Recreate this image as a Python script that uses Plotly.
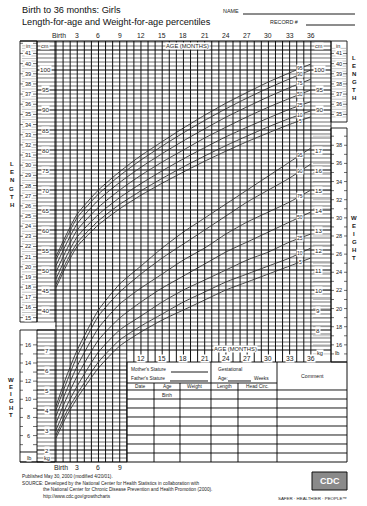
import numpy as np
import plotly.graph_objects as go

# ---------------- data ----------------
ages = [0, 1.5, 3, 6, 9, 12, 15, 18, 21, 24, 27, 30, 33, 36]
percentiles = ["5", "10", "25", "50", "75", "90", "95"]

length_p5 = [45.6, 51.2, 55.9, 61.3, 65.3, 68.7, 71.7, 74.5, 77.2, 79.7, 82.1, 84.3, 86.4, 88.3]
length_p10 = [46.4, 52.1, 56.8, 62.3, 66.4, 69.8, 72.9, 75.8, 78.5, 81.1, 83.5, 85.8, 87.9, 89.8]
length_p25 = [47.8, 53.5, 58.3, 63.9, 68.1, 71.6, 74.8, 77.8, 80.6, 83.3, 85.7, 88.0, 90.2, 92.1]
length_p50 = [49.5, 55.1, 60.0, 65.7, 70.0, 73.7, 77.0, 80.0, 83.0, 85.7, 88.3, 90.7, 92.9, 95.0]
length_p75 = [51.1, 56.7, 61.6, 67.5, 71.9, 75.7, 79.1, 82.3, 85.3, 88.2, 90.8, 93.3, 95.6, 97.7]
length_p90 = [52.6, 58.1, 63.1, 69.0, 73.6, 77.5, 81.0, 84.3, 87.4, 90.3, 93.0, 95.5, 97.8, 100.0]
length_p95 = [53.4, 59.0, 64.0, 70.0, 74.6, 78.6, 82.1, 85.5, 88.7, 91.7, 94.4, 97.0, 99.3, 101.5]

weight_p5 = [2.6, 3.7, 4.6, 6.1, 7.2, 7.9, 8.5, 9.0, 9.5, 10.0, 10.4, 10.8, 11.2, 11.6]
weight_p10 = [2.75, 3.9, 4.8, 6.4, 7.5, 8.2, 8.8, 9.4, 9.9, 10.4, 10.8, 11.2, 11.6, 12.1]
weight_p25 = [3.0, 4.2, 5.2, 6.9, 8.0, 8.7, 9.4, 10.0, 10.5, 11.0, 11.5, 11.9, 12.4, 12.8]
weight_p50 = [3.35, 4.6, 5.7, 7.5, 8.6, 9.4, 10.1, 10.7, 11.3, 11.9, 12.4, 12.9, 13.4, 13.9]
weight_p75 = [3.7, 5.0, 6.2, 8.1, 9.3, 10.1, 10.8, 11.5, 12.1, 12.8, 13.4, 13.9, 14.4, 15.0]
weight_p90 = [4.0, 5.4, 6.7, 8.7, 9.9, 10.8, 11.6, 12.3, 13.0, 13.7, 14.4, 15.0, 15.6, 16.3]
weight_p95 = [4.2, 5.7, 7.0, 9.0, 10.3, 11.2, 12.1, 12.9, 13.6, 14.3, 15.0, 15.7, 16.4, 17.1]

length_series = [length_p5, length_p10, length_p25, length_p50, length_p75, length_p90, length_p95]
weight_series = [weight_p5, weight_p10, weight_p25, weight_p50, weight_p75, weight_p90, weight_p95]

month_ticks = [0, 3, 6, 9, 12, 15, 18, 21, 24, 27, 30, 33, 36]
month_tick_labels = ["Birth", "3", "6", "9", "12", "15", "18", "21", "24", "27", "30", "33", "36"]
cm_left_labels = [40, 45, 50, 55, 60, 65, 70, 75, 80, 85, 90, 95, 100]
cm_right_labels = [90, 95, 100]
in_left_labels = list(range(15, 42))
in_right_labels = list(range(35, 42))
kg_right_labels = list(range(8, 18))
kg_left_labels = [2, 3, 4, 5, 6, 7]
lb_right_labels = list(range(16, 39, 2))
lb_left_labels = [6, 8, 10, 12, 14, 16]

# ---------------- geometry helpers (page layout) ----------------
W, H = 367, 506
X0, PXM = 56.0, 7.08          # pixel of birth, pixels per month
FONT = "Arial, 'Liberation Sans', Helvetica, sans-serif"


def mx(px):
    return (px - X0) / PXM


def cm_of(py):
    return 100 - (py - 70) / 4.0


def kg_of(py):
    return 2 + (450 - py) / 20.0


def py_cm(c):
    return 70 + (100 - c) * 4.0


def py_kg(k):
    return 450 - (k - 2) * 20.0


def px_m(m):
    return X0 + PXM * m


def P(px, py):
    return f"{px / W:.5f},{1 - py / H:.5f}"


def seg(x0, y0, x1, y1):
    return f"M{P(x0, y0)} L{P(x1, y1)} "


shapes = []
annotations = []


def path(d, color, width, layer="below"):
    shapes.append(dict(type="path", path=d, xref="paper", yref="paper",
                       line=dict(color=color, width=width), layer=layer))


def rect(x0, y0, x1, y1, width=0.9, fill=None, layer="below"):
    s = dict(type="rect", xref="paper", yref="paper", x0=x0 / W, x1=x1 / W,
             y0=1 - y1 / H, y1=1 - y0 / H, line=dict(color="#111", width=width), layer=layer)
    if fill:
        s["fillcolor"] = fill
    shapes.append(s)


def txt(px, py, s, size=6, anchor="center", bg=None, color="#1a1a1a", bold=False):
    a = dict(x=px / W, y=1 - py / H, xref="paper", yref="paper", text=(f"<b>{s}</b>" if bold else s),
             showarrow=False, xanchor=anchor, yanchor="middle",
             font=dict(size=size, color=color, family=FONT))
    if bg:
        a["bgcolor"] = bg
        a["borderpad"] = 0
    annotations.append(a)


# ---------------- grid ----------------
TOP, MID, LOW = 41, 352, 462
thin, thick, gray = "", "", ""
for c in range(2, 108):
    py = py_cm(c)
    if py < TOP:
        continue
    spans = []
    if py <= MID:
        if py <= 322 or py >= 330:
            spans.append((37, 331))
        else:
            spans.append((55, 331))
    else:
        spans.append((37, 127))
    for (a, b) in spans:
        if c % 5 == 0:
            thick += seg(a, py, b, py)
        else:
            thin += seg(a, py, b, py)

vert = ""
for m in range(0, 37):
    px = px_m(m)
    bottom = LOW if m <= 10 else 362
    vert += seg(px, TOP, px, bottom)

# quarter-inch gray lines in left inch column
q = 15 * 4
while q <= 42 * 4:
    inch = q / 4.0
    py = py_cm(inch * 2.54)
    if TOP + 2 < py < 322:
        if q % 4 == 0:
            thin += seg(20, py, 23, py) + seg(33, py, 37, py)
        else:
            gray += seg(22, py, 36, py)
    q += 1
# right inch box ticks
for inch in np.arange(34.75, 41.6, 0.25):
    py = py_cm(inch * 2.54)
    if TOP + 2 < py < 122:
        if abs(inch - round(inch)) < 1e-6:
            thin += seg(331, py, 334, py) + seg(343, py, 347, py)
        else:
            gray += seg(332, py, 346, py)
# right lb box ticks
for lb in range(15, 40):
    py = py_kg(lb * 0.45359)
    if 128 < py < 356:
        thin += seg(331, py, 334, py) + seg(344, py, 347, py)
        gray += seg(313, py, 331, py)
# left lb box ticks
for lb in range(4, 17):
    py = py_kg(lb * 0.45359)
    if 330 < py < 452:
        thin += seg(20, py, 23, py) + seg(33, py, 37, py)

path(gray, "#9a9a9a", 0.6)
path(thin, "#222222", 0.65)
path(thick, "#000000", 1.1)
path(vert, "#111111", 1.0)

# frames
path(seg(20, TOP, 331, TOP), "#000", 1.2)
rect(20, TOP, 37, 322)
path(seg(37, TOP, 37, 322) + seg(55, TOP, 55, 322), "#000", 0.9)
path(seg(331, TOP, 331, 362), "#000", 0.9)
rect(331, TOP, 347, 122)
rect(331, 128, 347, 362)
rect(20, 330, 55, LOW)
path(seg(37, 330, 37, LOW) + seg(20, 452, 37, 452) + seg(20, LOW, 127, LOW), "#000", 0.9)

# ---------------- table ----------------
rect(127, 362, 347, LOW, width=1.0, layer="above")
tbl = seg(211, 362, 211, LOW) + seg(277, 362, 277, LOW) + seg(127, 383, 277, 383) + seg(127, 390, 347, 390)
for xx in [154, 180, 238]:
    tbl += seg(xx, 383, xx, LOW)
for yy in [399, 408, 417, 426, 435, 444, 453]:
    tbl += seg(127, yy, 347, yy)
tbl += seg(171, 372, 208, 372) + seg(170, 381, 208, 381) + seg(228, 381, 251, 381)
tbl += seg(243, 14, 355, 14) + seg(306, 25, 355, 25)
path(tbl, "#000", 0.9, layer="above")

txt(129, 369, "Mother's Stature", 4.8, "left")
txt(129, 378, "Father's Stature", 4.8, "left")
txt(216, 369, "Gestational", 4.8, "left")
txt(216, 378, "Age:", 4.8, "left")
txt(252, 378, "Weeks", 4.8, "left")
txt(312, 376, "Comment", 5.2, "center")
for cx, lab in [(140, "Date"), (167, "Age"), (195, "Weight"), (224, "Length"), (257, "Head Circ.")]:
    txt(cx, 386.5, lab, 4.8)
txt(167, 395, "Birth", 4.8)

# ---------------- header / title ----------------
txt(20, 10, "Birth to 36 months: Girls", 9.2, "left", color="#111")
txt(20, 22, "Length-for-age and Weight-for-age percentiles", 9.2, "left", color="#111")
txt(221, 11, "NAME", 5.4, "left")
txt(268, 22, "RECORD #", 5.4, "left")

for m, lab in zip(month_ticks, month_tick_labels):
    txt(px_m(m) + (3 if lab == "Birth" else 0), 35, lab, 6.8)
for m, lab in zip(month_ticks[4:], month_tick_labels[4:]):
    txt(px_m(m), 358, lab, 6.8, bg="white")
for m, lab in zip(month_ticks[:4], month_tick_labels[:4]):
    txt(px_m(m) + (5 if lab == "Birth" else 0), 467, lab, 6.8)

txt(187, 46, "AGE (MONTHS)", 5.8, bg="white")
txt(235, 349, "AGE (MONTHS)", 5.8, bg="white")
txt(28, 45.5, "in", 5.6, bg="white")
txt(45, 45.5, "cm", 5.6, bg="white")
txt(319, 45.5, "cm", 5.6, bg="white")
txt(338, 45.5, "in", 5.6, bg="white")
txt(320, 353, "kg", 5.6, bg="white")
txt(337, 353, "lb", 5.6, bg="white")
txt(47, 457.5, "kg", 5.6, bg="white")
txt(29, 457.5, "lb", 5.6, bg="white")

for c in cm_left_labels:
    txt(45.5, py_cm(c), str(c), 6.2, bg="white")
for c in cm_right_labels:
    txt(319, py_cm(c), str(c), 6.2, bg="white")
for i in in_left_labels:
    txt(28.5, py_cm(i * 2.54), str(i), 5.6, bg="white")
for i in in_right_labels:
    txt(339, py_cm(i * 2.54), str(i), 5.6, bg="white")
for k in kg_right_labels:
    txt(318, py_kg(k), str(k), 6.2, bg="white")
for k in kg_left_labels:
    txt(46.5, py_kg(k), str(k), 6.2, bg="white")
for lb in lb_right_labels:
    txt(339, py_kg(lb * 0.45359), str(lb), 5.6, bg="white")
for lb in lb_left_labels:
    txt(28.5, py_kg(lb * 0.45359), str(lb), 5.6, bg="white")

for i, ch in enumerate("LENGTH"):
    txt(12, 164 + i * 8.2, ch, 6, bold=True)
    txt(354, 58 + i * 8.0, ch, 6, bold=True)
for i, ch in enumerate("WEIGHT"):
    txt(11, 380 + i * 7.0, ch, 6, bold=True)
    txt(354, 218 + i * 8.0, ch, 6, bold=True)

# ---------------- footer ----------------
txt(20, 476, "Published May 30, 2000 (modified 4/20/01).", 4.7, "left")
txt(20, 483, "SOURCE: Developed by the National Center for Health Statistics in collaboration with", 4.7, "left")
txt(41, 489.5, "the National Center for Chronic Disease Prevention and Health Promotion (2000).", 4.7, "left")
txt(41, 496, "http://www.cdc.gov/growthcharts", 4.7, "left")
rect(312, 472, 347, 490, width=1.0, fill="#8a8a8a", layer="above")
txt(329.5, 481, "CDC", 9, color="white", bold=True)
txt(312, 498, "SAFER · HEALTHIER · PEOPLE™", 4.4, "center")

# ---------------- curves ----------------
fig = go.Figure()
for pct, ys in zip(percentiles, length_series):
    fig.add_trace(go.Scatter(x=ages, y=ys, mode="lines", line=dict(color="#333333", width=0.9, shape="spline", smoothing=0.6),
                             name=f"Length P{pct}", showlegend=False, hoverinfo="skip", yaxis="y"))
for pct, ys in zip(percentiles, weight_series):
    fig.add_trace(go.Scatter(x=ages, y=ys, mode="lines", line=dict(color="#333333", width=0.9, shape="spline", smoothing=0.6),
                             name=f"Weight P{pct}", showlegend=False, hoverinfo="skip", yaxis="y2"))

LABEL_AGE = 34.5
for pct, ys in zip(percentiles, length_series):
    annotations.append(dict(x=LABEL_AGE, y=float(np.interp(LABEL_AGE, ages, ys)), xref="x", yref="y", text=pct,
                            showarrow=False, bgcolor="white", borderpad=0,
                            font=dict(size=5, color="#222", family=FONT)))
for pct, ys in zip(percentiles, weight_series):
    annotations.append(dict(x=LABEL_AGE, y=float(np.interp(LABEL_AGE, ages, ys)), xref="x", yref="y2", text=pct,
                            showarrow=False, bgcolor="white", borderpad=0,
                            font=dict(size=5, color="#222", family=FONT)))

fig.update_layout(
    width=W, height=H, autosize=False,
    margin=dict(l=0, r=0, t=0, b=0, pad=0),
    paper_bgcolor="white", plot_bgcolor="white",
    showlegend=False,
    xaxis=dict(range=[mx(0), mx(W)], visible=False, fixedrange=True),
    yaxis=dict(range=[cm_of(H), cm_of(0)], visible=False, fixedrange=True),
    yaxis2=dict(range=[kg_of(H), kg_of(0)], visible=False, fixedrange=True, overlaying="y"),
    shapes=shapes,
    annotations=annotations,
    font=dict(family=FONT),
)

fig.write_html("out.html", post_script="document.body.style.margin='0';",
               config={"displayModeBar": False})
